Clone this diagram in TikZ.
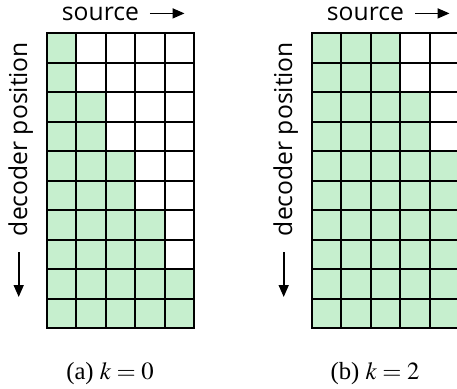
\documentclass[tikz,border=0pt]{standalone}
\usepackage{mathptmx}
\usepackage{fontspec}
\setmainfont{Liberation Serif}
\newfontfamily\labelfont{Open Sans}
\usetikzlibrary{arrows.meta}
\definecolor{cellgreen}{RGB}{198,239,206}
\tikzset{
  gridline/.style={line width=1.7pt, line cap=rect},
  axislabel/.style={font=\labelfont\fontsize{18.5}{22}\selectfont, inner sep=0pt},
  axisarrow/.style={line width=1.2pt, -{Triangle[length=9pt,width=7.5pt]}},
  caption/.style={font=\fontsize{18.5}{22}\selectfont, inner sep=0pt}
}
\begin{document}
\begin{tikzpicture}[x=0.75pt, y=-0.75pt]
  \useasboundingbox (0,0) rectangle (457,389);
  % one panel per k, grid is 5 source x 10 decoder cells
  \foreach \x/\k/\p in {46.7/0/a, 311.7/2/b} {
    \foreach \r in {0,...,9} {
      \pgfmathtruncatemacro\n{min(5, int(\r/2)+1+\k)}
      \fill[cellgreen] (\x, 33.3+29.5*\r) rectangle ++(29.5*\n, 29.5);
    }
    \foreach \i in {0,...,5}
      \draw[gridline] (\x+29.5*\i, 33.3) -- ++(0, 295);
    \foreach \j in {0,...,10}
      \draw[gridline] (\x, 33.3+29.5*\j) -- ++(147.5, 0);
    % axis labels
    \node[axislabel, anchor=base west] (src\p) at (\x+15, 20) {source};
    \coordinate (srcend\p) at ([xshift=34pt]src\p.east);
    \draw[axisarrow] ([xshift=8pt]src\p.east) -- (srcend\p);
    \node[axislabel, rotate=90] (pos\p) at (\x-26, 139) {decoder position};
    \coordinate (posbeg\p) at (\x-28, 252);
    \coordinate (posend\p) at (\x-28, 297);
    \draw[axisarrow] (posbeg\p) -- (posend\p);
  }
  \node[caption] (capa) at (110, 374) {(a)~$k=0$};
  \node[caption] (capb) at (375, 374) {(b)~$k=2$};
\end{tikzpicture}
\end{document}
